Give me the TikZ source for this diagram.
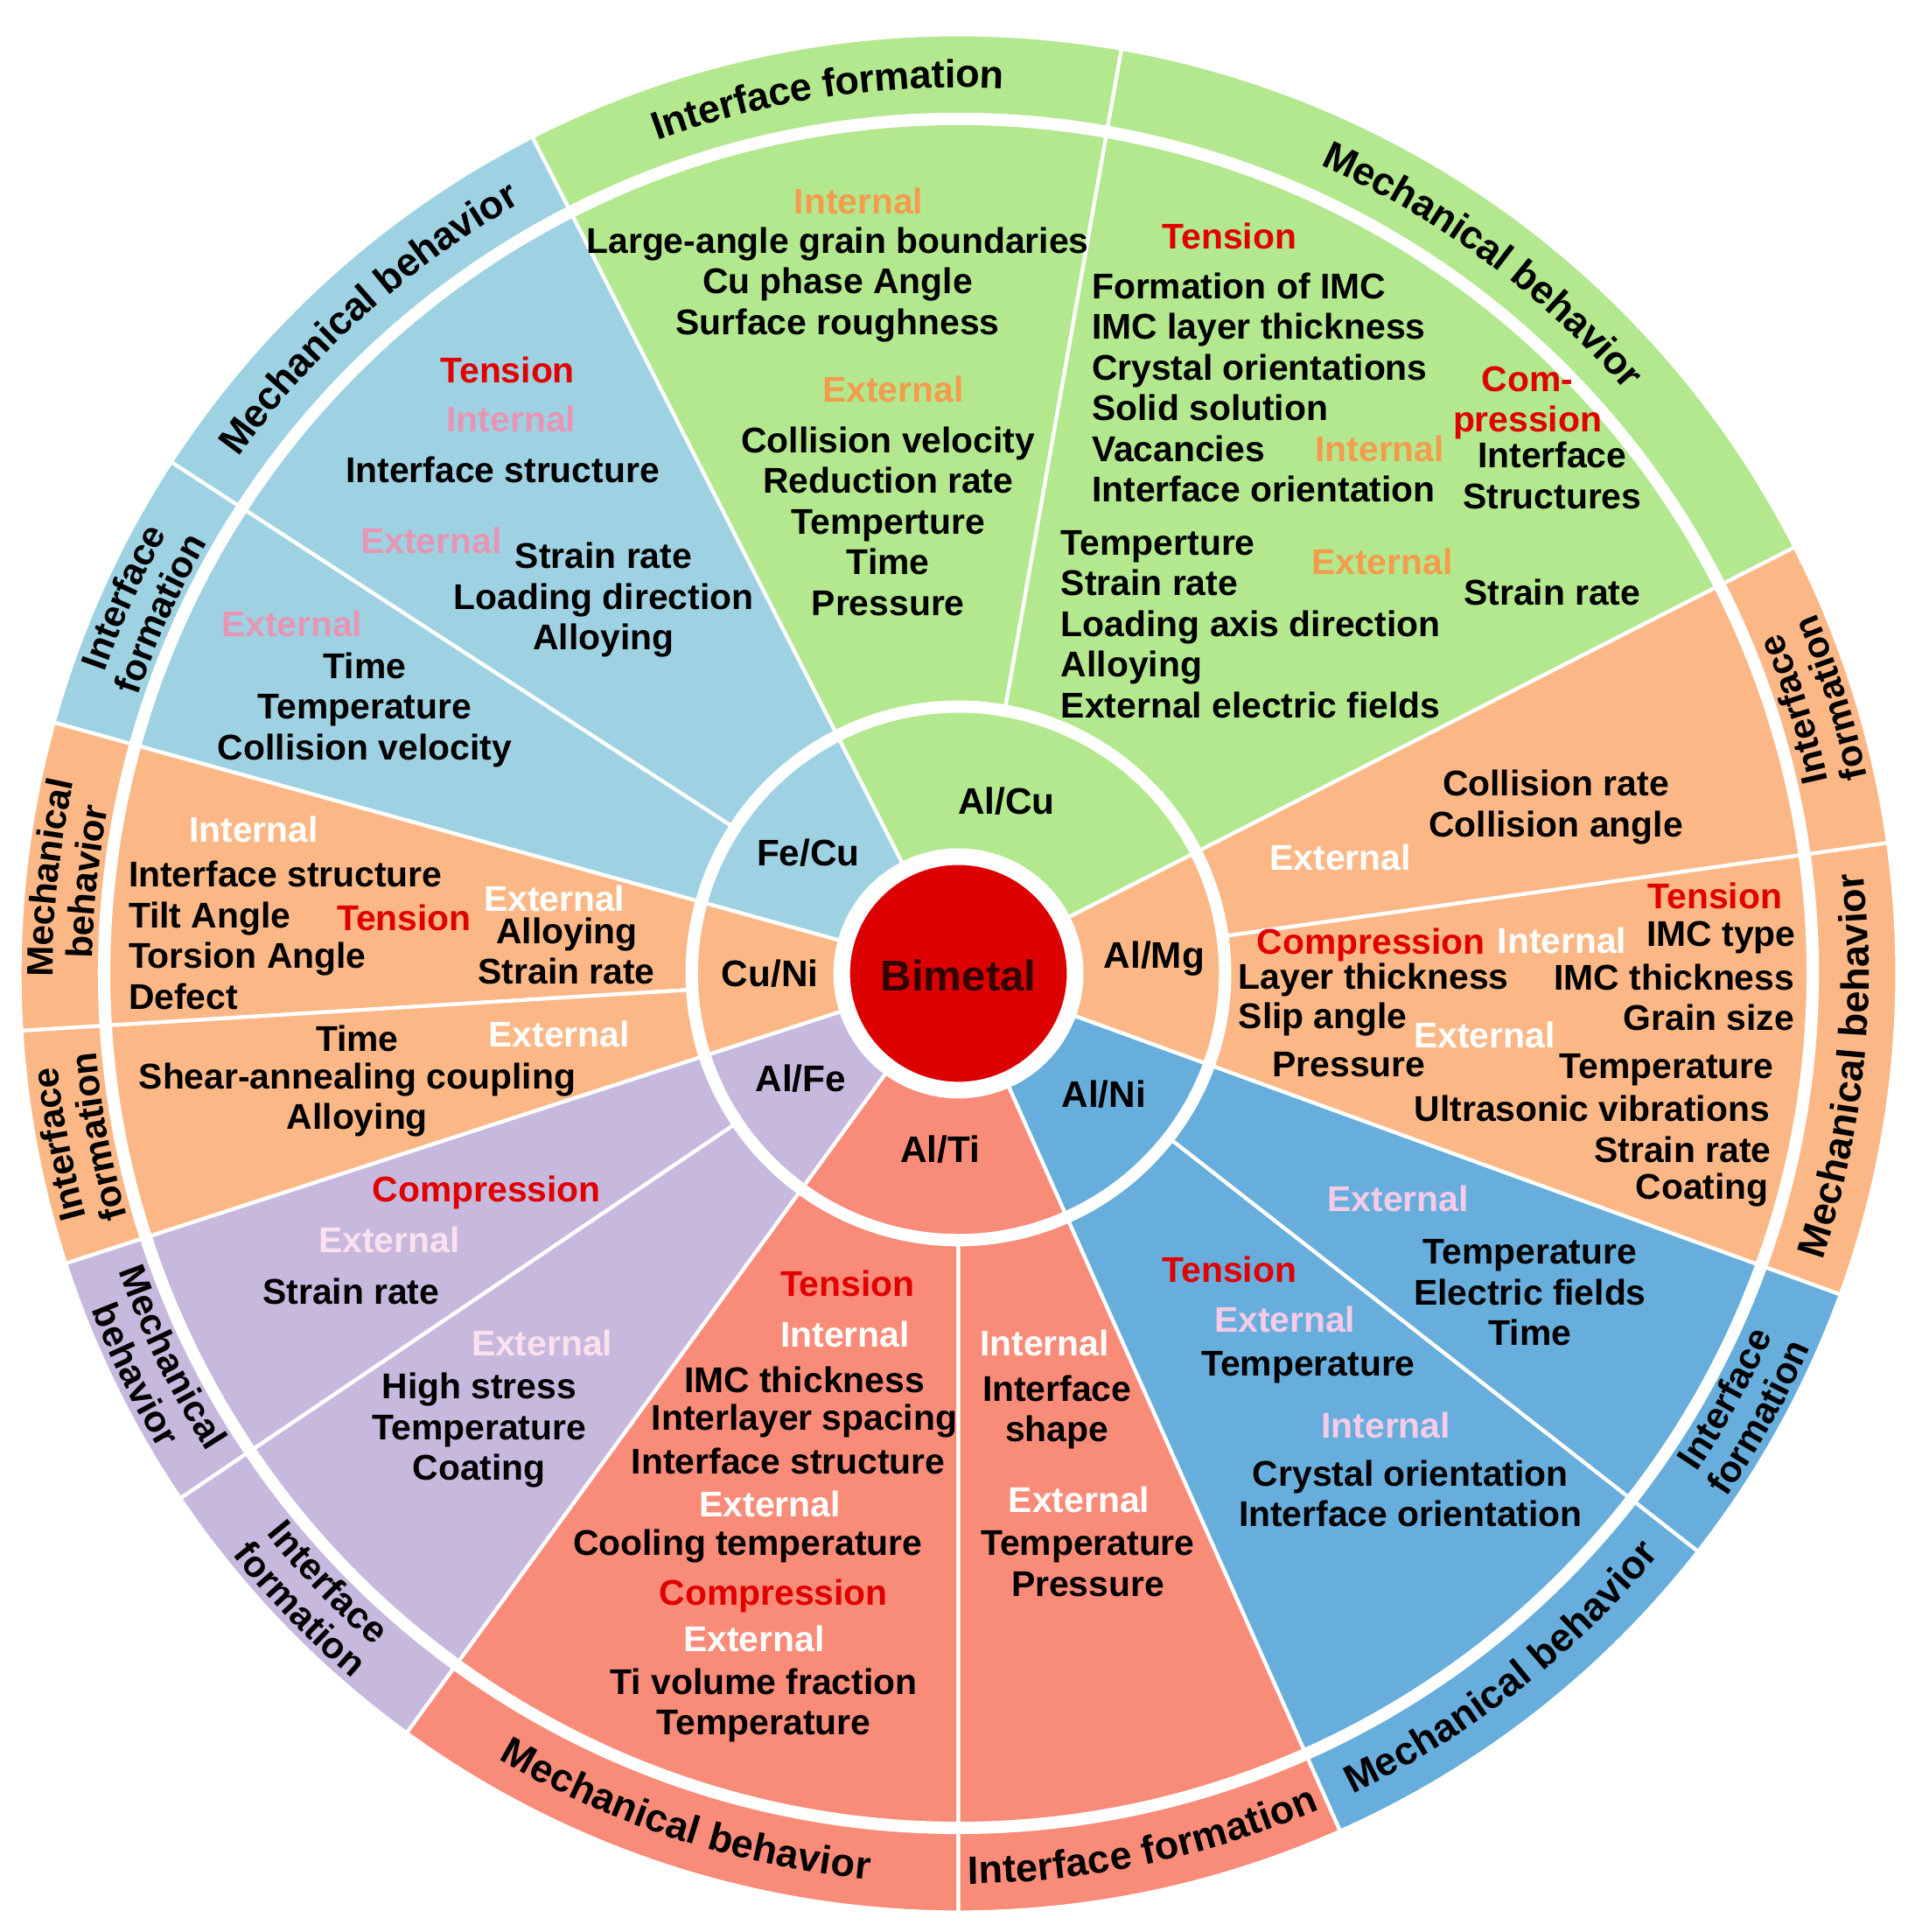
\documentclass[tikz,border=0pt]{standalone}
\usepackage{fontspec}
\setmainfont{Liberation Sans}
\usetikzlibrary{decorations.text}
\definecolor{cgreen}{HTML}{B3E88F}
\definecolor{cblue}{HTML}{9ED2E2}
\definecolor{corange}{HTML}{FBB886}
\definecolor{cpurple}{HTML}{C6B9DD}
\definecolor{csalmon}{HTML}{F98B79}
\definecolor{calni}{HTML}{68AEDC}
\definecolor{cbim}{HTML}{DD0000}
\definecolor{tred}{HTML}{E00000}
\definecolor{hgreen}{HTML}{F39C4E}
\definecolor{hblue}{HTML}{E696B4}
\definecolor{hpurple}{HTML}{FBE0EE}
\definecolor{halni}{HTML}{F6CBE8}
\newcommand\tf{\bfseries\fontsize{14.5}{16.5}\selectfont}
\newcommand\ofont{\bfseries\fontsize{16}{18}\selectfont}
\newcommand\ofontb{\bfseries\fontsize{15}{17}\selectfont}
\newcommand\sect[5]{\filldraw[fill=#5,draw=white,line width=1.5pt] (#1:#3) arc[start angle=#1,end angle=#2,radius=#3*0.5pt] -- (#2:#4) arc[start angle=#2,end angle=#1,radius=#4*0.5pt] -- cycle;}
\newcommand\olab[4]{\path[decorate,decoration={text along path,text={|\ofont|#4},text align=center,raise=-5pt}] (#1:#3) arc[start angle=#1,end angle=#2,radius=#3*0.5pt];}
\newcommand\olabb[4]{\path[decorate,decoration={text along path,text={|\ofontb|#4},text align=center,raise=-5pt}] (#1:#3) arc[start angle=#1,end angle=#2,radius=#3*0.5pt];}
\tikzset{t/.style={font=\tf,align=center,inner sep=0pt},
 rd/.style={t,text=tred},
 h/.style={t,text=#1},
 il/.style={font=\bfseries\fontsize{15}{17}\selectfont,inner sep=0pt}}
\begin{document}
\begin{tikzpicture}[x=0.5pt,y=0.5pt]
\useasboundingbox[fill=white] (-778,-778) rectangle (782,790);
% inner ring
\sect{27}{117}{100}{213}{cgreen}
\sect{117}{164.5}{100}{213}{cblue}
\sect{164.5}{198}{100}{213}{corange}
\sect{198}{234}{100}{213}{cpurple}
\sect{234}{294}{100}{213}{csalmon}
\sect{294}{340}{100}{213}{calni}
\sect{-20}{27}{100}{213}{corange}
% middle and outer
\foreach \a/\b/\c in {27/80/cgreen,80/117/cgreen,117/147/cblue,147/164.5/cblue,164.5/183.5/corange,183.5/198/corange,198/214/cpurple,214/234/cpurple,234/270/csalmon,270/294/csalmon,294/322/calni,322/340/calni,-20/8/corange,8/27/corange}{
 \sect{\a}{\b}{220}{690}{\c}
 \sect{\a}{\b}{697}{762}{\c}
}
\filldraw[fill=cbim,draw=white,line width=4pt] (0,0) circle[radius=46pt];
\node[font=\bfseries\fontsize{17.5}{20}\selectfont,text=black!80!red] (bim) at (0,-2) {Bimetal};
% inner labels
\node[il] (alcu) at (39,140) {Al/Cu};
\node[il] (fecu) at (-122,98) {Fe/Cu};
\node[il] (cuni) at (-153,0) {Cu/Ni};
\node[il] (alfe) at (-128,-85) {Al/Fe};
\node[il] (alti) at (-15,-143) {Al/Ti};
\node[il] (alni) at (118,-98) {Al/Ni};
\node[il] (almg) at (159,12) {Al/Mg};
% outer labels
\olab{117}{80}{729}{Interface formation}
\olab{80}{27}{729}{Mechanical behavior}
\olabb{8}{27}{713}{Interface}
\olabb{8}{27}{745}{formation}
\olab{-20}{8}{729}{Mechanical behavior}
\olabb{-38}{-20}{713}{Interface}
\olabb{-38}{-20}{745}{formation}
\olab{-66}{-38}{729}{Mechanical behavior}
\olab{-90}{-66}{729}{Interface formation}
\olab{234}{270}{729}{Mechanical behavior}
\olabb{214}{234}{713}{Interface}
\olabb{214}{234}{745}{formation}
\olabb{198}{214}{713}{Mechanical}
\olabb{198}{214}{745}{behavior}
\olabb{198}{183.5}{745}{Interface}
\olabb{198}{183.5}{713}{formation}
\olabb{183.5}{164.5}{745}{Mechanical}
\olabb{183.5}{164.5}{713}{behavior}
\olabb{164.5}{147}{745}{Interface}
\olabb{164.5}{147}{713}{formation}
\olab{147}{117}{729}{Mechanical behavior}
% blue Fe/Cu
\node[rd] (b1) at (-366,490) {Tension};
\node[h=hblue] (b2) at (-363,450) {Internal};
\node[t] (b3) at (-370,409) {Interface structure};
\node[h=hblue] (b4) at (-428,351) {External};
\node[t] (b5) at (-288,303) {Strain rate\\Loading direction\\Alloying};
\node[h=hblue] (b6) at (-541,284) {External};
\node[t] (b7) at (-482,214) {Time\\Temperature\\Collision velocity};
% green interface
\node[h=hgreen] (g1) at (-81,627) {Internal};
\node[t] (g2) at (-98,559) {Large-angle grain boundaries\\Cu phase Angle\\Surface roughness};
\node[h=hgreen] (g3) at (-53,474) {External};
\node[t] (g4) at (-57,367) {Collision velocity\\Reduction rate\\Temperture\\Time\\Pressure};
% green mech
\node[rd] (g5) at (220,598) {Tension};
\node[t,align=left,anchor=west] (g6) at (108,475.5) {Formation of IMC\\IMC layer thickness\\Crystal orientations\\Solid solution\\Vacancies\\Interface orientation};
\node[h=hgreen] (g7) at (342,426) {Internal};
\node[rd] (g8) at (462,463) {Com-\\pression};
\node[t] (g9) at (482,404) {Interface\\Structures};
\node[t,align=left,anchor=west] (g10) at (83,283.5) {Temperture\\Strain rate\\Loading axis direction\\Alloying\\External electric fields};
\node[h=hgreen] (g11) at (344,334) {External};
\node[t] (g12) at (482,309) {Strain rate};
% Al/Mg
\node[t] (m1) at (485,135) {Collision rate\\Collision angle};
\node[h=white] (m2) at (310,94) {External};
\node[rd] (m3) at (614,63) {Tension};
\node[rd] (m4) at (335,23) {Compression};
\node[h=white] (m5) at (490,27) {Internal};
\node[t,anchor=east] (m6) at (680,29) {IMC type};
\node[t,anchor=east] (m7) at (679,-3) {IMC thickness};
\node[t,anchor=east] (m8) at (679,-36) {Grain size};
\node[t,anchor=east] (m9) at (662,-78) {Temperature};
\node[t,anchor=east] (m10) at (659,-110) {Ultrasonic vibrations};
\node[t,anchor=east] (m11) at (660,-143) {Strain rate};
\node[t,anchor=east] (m12) at (658,-176) {Coating};
\node[t,anchor=west] (m13) at (227,-5) {Layer thickness};
\node[t,anchor=west] (m14) at (227,-37) {Slip angle};
\node[t] (m15) at (317,-74) {Pressure};
\node[h=white] (m16) at (427,-50) {External};
% Al/Ni
\node[h=halni] (n1) at (357,-183) {External};
\node[t] (n2) at (464,-259) {Temperature\\Electric fields\\Time};
\node[rd] (n3) at (220,-240) {Tension};
\node[h=halni] (n4) at (265,-281) {External};
\node[t] (n5) at (284,-320) {Temperature};
\node[h=halni] (n6) at (347,-367) {Internal};
\node[t] (n7) at (367,-422) {Crystal orientation\\Interface orientation};
% Al/Ti
\node[h=white] (r1) at (70,-300) {Internal};
\node[t] (r2) at (80,-356) {Interface\\shape};
\node[h=white] (r3) at (98,-427) {External};
\node[t] (r4) at (105,-479) {Temperature\\Pressure};
\node[rd] (r5) at (-90,-252) {Tension};
\node[h=white] (r6) at (-92,-293) {Internal};
\node[t] (r7) at (-125,-330) {IMC thickness};
\node[t] (r8) at (-125,-363) {Interlayer spacing};
\node[t] (r9) at (-138,-396) {Interface structure};
\node[h=white] (r10) at (-153,-431) {External};
\node[t] (r11) at (-171,-465) {Cooling temperature};
\node[rd] (r12) at (-150,-505) {Compression};
\node[h=white] (r13) at (-166,-540) {External};
\node[t] (r14) at (-158,-594) {Ti volume fraction\\Temperature};
% Al/Fe
\node[rd] (p1) at (-383,-178) {Compression};
\node[h=hpurple] (p2) at (-462,-216) {External};
\node[t] (p3) at (-493,-258) {Strain rate};
\node[h=hpurple] (p4) at (-338,-300) {External};
\node[t] (p5) at (-389,-371) {High stress\\Temperature\\Coating};
% Cu/Ni
\node[h=white] (o1) at (-572,117) {Internal};
\node[t,align=left,anchor=west] (o2) at (-674,31) {Interface structure\\Tilt Angle\\Torsion Angle\\Defect};
\node[rd] (o3) at (-450,45) {Tension};
\node[h=white] (o4) at (-328,61) {External};
\node[t] (o5) at (-318,18) {Alloying\\Strain rate};
\node[t] (o6) at (-488,-53) {Time};
\node[h=white] (o7) at (-324,-49) {External};
\node[t] (o8) at (-488,-102.5) {Shear-annealing coupling\\Alloying};
\end{tikzpicture}
\end{document}
